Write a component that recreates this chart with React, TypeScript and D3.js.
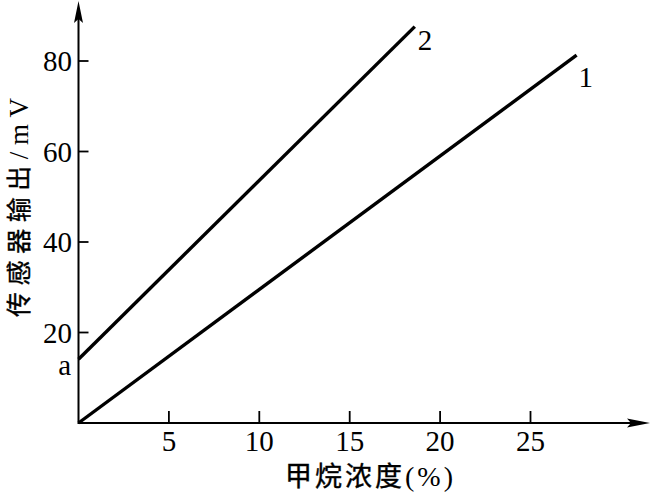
import React from "react";
import * as d3 from "d3";

// Data
const xTicks = [5, 10, 15, 20, 25];
const yTicks = [20, 40, 60, 80];
const line1X = [0, 27.55];
const line1Y = [0, 81.3];
const line2X = [0, 18.6];
const line2Y = [14.1, 87.6];
const lineLabels = ["1", "2"];
const interceptLabel = "a";
const xTitleCJK = "甲烷浓度";
const xTitleLatin = "(%)";
const yTitleCJK = "传感器输出";
const yTitleLatin = "/mV";

const W = 651;
const H = 500;
const serif = "'Liberation Serif', 'Times New Roman', serif";
const cjk = "'Noto Sans CJK SC', sans-serif";

export default function App() {
  const x = d3.scaleLinear().domain([0, 25]).range([78.5, 530.5]);
  const y = d3.scaleLinear().domain([0, 80]).range([423, 61]);
  const x0 = x(0);
  const y0 = y(0);
  const xEnd = 650;
  const yEnd = 1;

  const line = d3
    .line<[number, number]>()
    .x((d) => x(d[0]))
    .y((d) => y(d[1]));
  const pts1: [number, number][] = line1X.map((v, i) => [v, line1Y[i]]);
  const pts2: [number, number][] = line2X.map((v, i) => [v, line2Y[i]]);
  const end1 = pts1[pts1.length - 1];
  const end2 = pts2[pts2.length - 1];

  return (
    <svg width={W} height={H} style={{ position: "absolute", left: 0, top: 0, background: "#fff" }}>
      <rect x={0} y={0} width={W} height={H} fill="#fff" />
      {/* axes */}
      <line x1={x0} y1={y0} x2={xEnd - 10} y2={y0} stroke="#000" strokeWidth={2} />
      <line x1={x0} y1={y0 + 1} x2={x0} y2={yEnd + 10} stroke="#000" strokeWidth={2} />
      <path d={`M${xEnd},${y0} L${xEnd - 23},${y0 - 4.5} L${xEnd - 19},${y0} L${xEnd - 23},${y0 + 4.5} Z`} fill="#000" />
      <path d={`M${x0},${yEnd} L${x0 - 4.5},${yEnd + 22} L${x0},${yEnd + 18} L${x0 + 4.5},${yEnd + 22} Z`} fill="#000" />
      {/* x ticks */}
      {xTicks.map((t) => (
        <g key={"x" + t}>
          <line x1={x(t)} x2={x(t)} y1={y0} y2={y0 - 12} stroke="#000" strokeWidth={1.8} />
          <text x={x(t)} y={451} textAnchor="middle" fontFamily={serif} fontSize={29} fill="#000">
            {t}
          </text>
        </g>
      ))}
      {/* y ticks */}
      {yTicks.map((t) => (
        <g key={"y" + t}>
          <line x1={x0} x2={x0 + 10} y1={y(t)} y2={y(t)} stroke="#000" strokeWidth={1.8} />
          <text x={72} y={y(t)} dy="0.35em" textAnchor="end" fontFamily={serif} fontSize={29} fill="#000">
            {t}
          </text>
        </g>
      ))}
      {/* data lines */}
      <path d={line(pts1) || ""} fill="none" stroke="#000" strokeWidth={3.4} />
      <path d={line(pts2) || ""} fill="none" stroke="#000" strokeWidth={3.4} />
      {/* labels */}
      <text x={x(end1[0]) + 2} y={y(end1[1]) + 32} fontFamily={serif} fontSize={29} fill="#000">
        {lineLabels[0]}
      </text>
      <text x={x(end2[0]) + 3} y={y(end2[1]) + 23} fontFamily={serif} fontSize={29} fill="#000">
        {lineLabels[1]}
      </text>
      <text x={71} y={375} textAnchor="end" fontFamily={serif} fontSize={29} fill="#000">
        {interceptLabel}
      </text>
      {/* x title */}
      <text x={369} y={486} textAnchor="middle" fontSize={27} fill="#000" textLength={168} lengthAdjust="spacing">
        <tspan fontFamily={cjk} stroke="#000" strokeWidth={0.4}>{xTitleCJK}</tspan>
        <tspan fontFamily={serif} fontSize={28}>{xTitleLatin}</tspan>
      </text>
      {/* y title */}
      <text transform="translate(28,207.5) rotate(-90)" textAnchor="middle" fontSize={25} fill="#000" textLength={219} lengthAdjust="spacing">
        <tspan fontFamily={cjk} stroke="#000" strokeWidth={0.4}>{yTitleCJK}</tspan>
        <tspan fontFamily={serif} fontSize={27}>{yTitleLatin}</tspan>
      </text>
    </svg>
  );
}
